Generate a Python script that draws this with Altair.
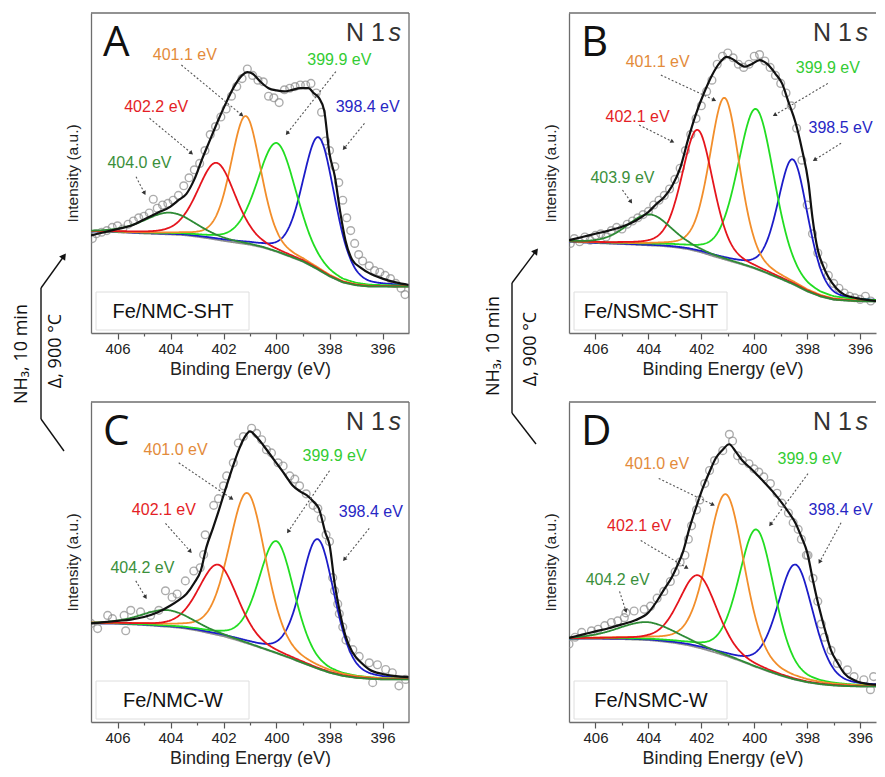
import numpy as np
import pandas as pd
import altair as alt

# ---------------- data ----------------
BG_EV = [407, 406, 405, 404, 403.5, 403, 402.5, 402, 401.5, 401, 400.5, 400,
         399.5, 399, 398.5, 398, 397.5, 397, 396.5, 396, 395]

A_BG = [31.7, 31.5, 31.1, 30.8, 30.6, 30.1, 29.5, 28.8, 28.2, 27.6, 26.7, 25.4,
        23.9, 22.3, 20.1, 17.7, 15.8, 14.9, 14.5, 14.5, 14.5]
B_BG = [28.5, 28.1, 27.8, 27.4, 27.2, 26.8, 26.2, 25.2, 23.9, 22.7, 21.5, 20.2,
        18.6, 16.9, 15.1, 13.0, 11.4, 10.4, 10.1, 9.9, 9.8]
C_BG = [30.8, 30.7, 30.3, 29.7, 29.3, 28.6, 27.7, 26.8, 25.6, 24.3, 22.9, 21.5,
        20.0, 18.4, 16.8, 15.4, 14.4, 13.8, 13.5, 13.3, 13.3]
D_BG = [26.0, 26.0, 25.9, 25.6, 25.2, 24.7, 24.0, 23.0, 21.8, 20.5, 19.0, 17.4,
        15.9, 14.5, 13.3, 12.4, 11.8, 11.4, 11.2, 11.1, 11.1]

# component order: blue, green, orange, red, dark green
A_CENTER = [398.4, 399.98, 401.16, 402.26, 404.03]
A_HEIGHT = [41.5, 34.0, 40.0, 24.0, 6.8]
A_FWHM = [1.45, 1.75, 1.35, 1.7, 2.3]
B_CENTER = [398.54, 399.93, 401.12, 402.14, 403.97]
B_HEIGHT = [39.0, 50.0, 50.5, 38.0, 9.7]
B_FWHM = [1.35, 1.65, 1.35, 1.4, 2.0]
C_CENTER = [398.44, 400.0, 401.1, 402.2, 404.13]
C_HEIGHT = [40.5, 35.0, 47.0, 22.0, 5.2]
C_FWHM = [1.5, 1.6, 1.65, 1.75, 2.3]
D_CENTER = [398.44, 399.91, 401.07, 402.12, 404.05]
D_HEIGHT = [36.0, 43.0, 50.5, 22.6, 5.6]
D_FWHM = [1.6, 1.6, 1.65, 1.7, 2.6]

# fitted envelope (black line)
A_ENV_EV = [407, 406.5, 406, 405.5, 405, 404.5, 404, 403.7, 403.4, 403.1, 402.8, 402.5, 402.2,
            401.9, 401.6, 401.3, 401.1, 400.9, 400.6, 400.3, 400.0, 399.7, 399.4, 399.1, 398.8,
            398.6, 398.4, 398.2, 398.0, 397.8, 397.6, 397.4, 397.15, 396.8, 396.5, 396.0, 395.5, 395.0]
A_ENV_U = [30.5, 31.5, 32.5, 33.5, 35.5, 37.5, 39.5, 41.5, 43.5, 48, 54.5, 60.5, 66.5,
           72, 77, 80.5, 81.5, 81, 78.5, 76.5, 75.8, 75.5, 76, 76.5, 76.5,
           75, 73.5, 69.5, 56, 49, 38, 29, 23, 20.3, 18.7, 17, 15.8, 15]
B_ENV_EV = [407, 406.5, 406, 405.5, 405, 404.5, 404, 403.7, 403.4, 403.1, 402.8, 402.5, 402.2,
            401.9, 401.6, 401.3, 401.05, 400.8, 400.55, 400.35, 400.1, 399.8, 399.5, 399.2, 398.95,
            398.7, 398.45, 398.2, 397.95, 397.8, 397.6, 397.4, 397.2, 396.9, 396.6, 396.2, 395.6, 395.0]
B_ENV_U = [29, 30, 31, 32, 33.2, 35, 37.8, 40.3, 42.5, 46, 51.5, 60.5, 68.5,
           75, 80.5, 84.5, 86.3, 85.5, 84, 83.2, 84, 85.3, 84, 81, 78,
           72, 66, 57.5, 46.8, 36, 26, 21, 17.5, 14, 12, 11, 10.2, 9.8]
C_ENV_EV = [407, 406.5, 406, 405.5, 405, 404.5, 404, 403.7, 403.4, 403.1, 402.85, 402.65, 402.4,
            402.2, 402.0, 401.8, 401.6, 401.4, 401.2, 401.0, 400.8, 400.5, 400.1, 399.7, 399.4,
            399.1, 398.85, 398.6, 398.4, 398.15, 398.0, 397.8, 397.6, 397.4, 397.15, 396.8, 396.5,
            396.0, 395.0]
C_ENV_U = [30.8, 31.2, 31.6, 32.0, 32.8, 34.2, 36.4, 38.0, 40.0, 43.5, 47.5, 54.5, 60.5,
           65.5, 70.8, 76, 81, 85.5, 89, 90.8, 89.5, 86.5, 82, 77.5, 74,
           72, 70.8, 68.8, 66.7, 59, 55.4, 43, 34, 27, 22, 18.5, 16.4, 15, 14]
D_ENV_EV = [407, 406.5, 406, 405.5, 405, 404.5, 404, 403.7, 403.4, 403.1, 402.9, 402.7, 402.45,
            402.2, 401.95, 401.7, 401.45, 401.2, 400.95, 400.7, 400.45, 400.1, 399.7, 399.3, 398.95,
            398.7, 398.45, 398.2, 398.0, 397.8, 397.6, 397.45, 397.3, 397.1, 396.85, 396.6, 396.2,
            395.6, 395.0]
D_ENV_U = [26.3, 27.3, 28.3, 29.3, 30.5, 31.8, 34.2, 37.5, 41.5, 45.5, 49, 53, 60.5,
           67, 73, 78, 82.5, 85, 86.8, 84.5, 81.7, 79, 75.6, 72, 68.4,
           65.5, 62.3, 57.5, 53, 45, 37.5, 32.6, 28, 22.4, 18.5, 15.2, 13.0,
           11.8, 11.5]

# measured points (grey circles)
A_PTS_EV = [406.95, 406.8, 406.6, 406.4, 406.2, 406.0, 405.8, 405.6, 405.4, 405.2, 405.0, 404.8,
            404.65, 404.5, 404.3, 404.1, 403.9, 403.7, 403.5, 403.3, 403.1, 402.9, 402.7, 402.5,
            402.3, 402.1, 401.9, 401.7, 401.5, 401.3, 401.1, 400.9, 400.7, 400.5, 400.3, 400.1,
            399.9, 399.7, 399.5, 399.3, 399.1, 398.9, 398.7, 398.5, 398.3, 398.15, 398.0, 397.8,
            397.65, 397.5, 397.35, 397.2, 397.05, 396.9, 396.75, 396.5, 396.3, 396.1, 395.9,
            395.7, 395.5, 395.3, 395.15]
A_PTS_U = [29.5, 31, 31.5, 32, 33, 33.5, 32.5, 34, 35, 36, 36.5, 37.5,
           41.8, 39, 40, 40.5, 41.5, 43, 46, 48.5, 51, 53, 57, 62,
           64.5, 67.5, 70, 74, 77, 79.5, 82.5, 80.5, 79, 78.5, 74, 73.5,
           72, 76, 76.5, 77, 77.5, 77.5, 78, 75, 69, 60, 57, 52,
           47, 41.5, 36, 32, 28, 24.5, 22.5, 21, 19.5, 19, 18,
           17, 15.5, 14, 12]
B_PTS_EV = [406.95, 406.8, 406.6, 406.4, 406.2, 406.0, 405.8, 405.6, 405.4, 405.2, 405.0, 404.8,
            404.6, 404.4, 404.2, 404.0, 403.8, 403.6, 403.4, 403.2, 403.0, 402.8, 402.6, 402.4,
            402.2, 402.0, 401.8, 401.6, 401.4, 401.2, 401.0, 400.8, 400.6, 400.4, 400.2, 400.0,
            399.8, 399.6, 399.4, 399.2, 399.0, 398.8, 398.6, 398.4, 398.2, 398.0, 397.8, 397.6,
            397.4, 397.2, 397.0, 396.8, 396.6, 396.4, 396.2, 396.0, 395.8, 395.6]
B_PTS_U = [28, 29.5, 28.5, 30, 29, 30.5, 31, 30, 32, 33, 32.5, 34,
           35, 36, 37, 38, 40, 41.5, 43, 45, 48, 51.5, 57, 62,
           67, 71, 75.5, 79, 84, 86.5, 87.5, 86, 84, 83, 84, 86.5,
           87, 85, 83, 80.5, 78, 75, 71, 64, 54, 40, 31, 25,
           21, 18, 15.5, 14, 12.5, 11.5, 11, 10.5, 11.5, 10]
C_PTS_EV = [407.0, 406.75, 406.37, 406.19, 405.75, 405.69, 405.5, 405.13, 404.75, 404.44, 404.19,
            403.94, 403.75, 403.44, 403.12, 402.88, 402.75, 402.69, 402.37, 402.19, 402.0, 401.88,
            401.63, 401.44, 401.25, 400.94, 400.75, 400.56, 400.38, 400.19, 399.94, 399.75, 399.5,
            399.31, 399.13, 398.88, 398.62, 398.44, 398.31, 398.13, 398.0, 397.88, 397.81, 397.69,
            397.63, 397.5, 397.38, 397.12, 396.88, 396.5, 396.37, 396.19, 395.88, 395.63, 395.38,
            395.13]
C_PTS_U = [30.8, 29.2, 33.3, 32.3, 33.3, 28.5, 34.9, 34.4, 33.3, 34.9, 41,
           39, 40, 44.1, 47.2, 48.2, 52.3, 58.5, 67.7, 69.8, 73.8, 76.9,
           81, 87.2, 89.2, 91.8, 90.2, 88.2, 85.1, 84.1, 81, 80, 76.9,
           75.9, 73.8, 71.3, 67.7, 66.7, 63.6, 58.5, 56.4, 45.1, 41, 36.9,
           33.8, 29.7, 25.6, 22.6, 20.5, 18.5, 12.3, 17.9, 16.4, 15.4, 11.3,
           13.3]
D_PTS_EV = [407.0, 406.77, 406.52, 406.15, 405.9, 405.65, 405.4, 405.16, 404.91, 404.85, 404.54,
            404.16, 403.92, 403.67, 403.42, 403.17, 402.99, 402.8, 402.62, 402.49, 402.37, 402.18,
            402.06, 401.87, 401.69, 401.5, 401.19, 400.94, 400.82, 400.63, 400.45, 400.2, 400.01,
            399.83, 399.64, 399.39, 399.14, 398.96, 398.71, 398.53, 398.34, 398.22, 398.03, 397.97,
            397.78, 397.6, 397.47, 397.35, 397.1, 396.86, 396.48, 396.23, 395.86, 395.61, 395.49]
D_PTS_U = [24.4, 26.5, 28, 28.5, 29, 30.1, 31.1, 31.6, 32.6, 34.1, 34.7,
           35.2, 36.2, 38.7, 40.8, 43.9, 46.9, 50, 52.1, 57.1, 61.3, 66.3,
           69.4, 74.5, 78.6, 81.7, 84.8, 89.9, 87.8, 83.2, 81.7, 80.7, 79.1,
           78.1, 76.6, 74.5, 71.5, 68.4, 65.3, 62.3, 60.2, 57.1, 52.1, 52.1,
           44.9, 37.7, 30.6, 26.5, 22.4, 18.3, 16.3, 14.2, 13.2, 10.1, 14.2]

# peak labels and dotted arrows (blue, green, orange, red, dark green)
A_LABELS = ["398.4 eV", "399.9 eV", "401.1 eV", "402.2 eV", "404.0 eV"]
A_LAB_EV = [396.56, 397.63, 403.46, 404.54, 405.17]
A_LAB_U = [70.7, 85.3, 86.9, 70.7, 53.0]
A_ARR_EV0 = [396.68, 397.76, 403.59, 404.79, 405.3]
A_ARR_U0 = [65.5, 81.7, 83.75, 67.1, 48.8]
A_ARR_EV1 = [397.45, 399.6, 401.31, 403.21, 404.98]
A_ARR_U1 = [57.7, 62.4, 68.1, 56.2, 43.7]

B_LABELS = ["398.5 eV", "399.9 eV", "401.1 eV", "402.1 eV", "403.9 eV"]
B_LAB_EV = [396.74, 397.22, 403.65, 404.41, 404.98]
B_LAB_U = [64.0, 82.7, 84.8, 67.6, 48.3]
B_ARR_EV0 = [396.72, 397.22, 403.53, 404.35, 404.98]
B_ARR_U0 = [59.3, 78.0, 80.6, 65.0, 44.7]
B_ARR_EV1 = [397.72, 399.23, 401.51, 403.09, 404.66]
B_ARR_U1 = [54.1, 68.1, 72.8, 59.8, 41.0]

C_LABELS = ["398.4 eV", "399.9 eV", "401.0 eV", "402.1 eV", "404.2 eV"]
C_LAB_EV = [396.44, 397.81, 403.81, 404.25, 405.06]
C_LAB_U = [65.6, 83.1, 85.1, 66.2, 48.2]
C_ARR_EV0 = [396.5, 398.0, 403.69, 404.19, 405.31]
C_ARR_U0 = [60.5, 78.5, 81.0, 62.1, 44.1]
C_ARR_EV1 = [397.44, 399.56, 401.69, 403.25, 404.94]
C_ARR_U1 = [50.8, 59.5, 69.8, 53.3, 39.0]

D_LABELS = ["398.4 eV", "399.9 eV", "401.0 eV", "402.1 eV", "404.2 eV"]
D_LAB_EV = [396.74, 397.91, 403.67, 404.35, 405.16]
D_LAB_U = [66.3, 82.2, 80.7, 61.3, 44.4]
D_ARR_EV0 = [396.72, 397.97, 403.61, 404.29, 405.09]
D_ARR_U0 = [62.3, 77.6, 76.1, 56.7, 40.8]
D_ARR_EV1 = [397.53, 399.39, 401.56, 402.55, 404.85]
D_ARR_U1 = [50.0, 61.7, 67.9, 48.2, 34.7]

LINE_COLORS = ["#1c1cc8", "#22dd22", "#f28e2b", "#e5151d", "#2e8b35"]
LABEL_COLORS = ["#2727c4", "#33cc33", "#e38b3b", "#e41e26", "#3b8f3b"]

# ---------------- layout ----------------
W_L, W_R, H = 318, 307, 320
LOW_L, LOW_R = 395.0, 395.4
FRAME = "#6e6e6e"
ONE = pd.DataFrame({"k": [0]})
FONT = "Liberation Sans"


def pv(x, c, h, w, eta=0.3):
    t = 2.0 * (x - c) / w
    return h * (eta / (1.0 + t * t) + (1.0 - eta) * np.exp(-np.log(2.0) * t * t))


def build_panel(letter, sample, bg, centers, heights, fwhms, env_ev, env_u,
                pts_ev, pts_u, labels, lab_ev, lab_u, a_ev0, a_u0, a_ev1, a_u1,
                width, low, right_frame, extras):
    xs = alt.Scale(domain=[407, low], nice=False, zero=False)
    ys = alt.Scale(domain=[0, 100], nice=False, zero=False)
    xaxis = alt.Axis(title="Binding Energy (eV)", values=list(range(396, 407)),
                     labelExpr="datum.value % 2 == 0 ? datum.label : ''",
                     tickSize={"condition": {"test": "datum.value % 2 == 0", "value": 6},
                               "value": 3},
                     grid=False)
    yaxis = alt.Axis(title="Intensity (a.u.)", labels=False, ticks=False, grid=False)
    X = alt.X("ev:Q", scale=xs, axis=xaxis)
    Y = alt.Y("u:Q", scale=ys, axis=yaxis)

    grid = np.round(np.arange(low, 407.0001, 0.025), 4)
    base = np.interp(grid, BG_EV[::-1], bg[::-1])

    layers = []
    pts = pd.DataFrame({"ev": pts_ev, "u": pts_u})
    layers.append(alt.Chart(pts).mark_point(shape="circle", filled=False, size=60,
                                            color="#8a8a8a", strokeWidth=1.4,
                                            clip=True).encode(x=X, y=Y))
    layers.append(alt.Chart(pd.DataFrame({"ev": grid, "u": base})).mark_line(
        color="#8f8f8f", strokeWidth=1.8, clip=True).encode(x=X, y=Y))
    for c, h, w, col in zip(centers, heights, fwhms, LINE_COLORS):
        comp = pd.DataFrame({"ev": grid, "u": base + pv(grid, c, h, w)})
        layers.append(alt.Chart(comp).mark_line(color=col, strokeWidth=1.8,
                                                clip=True).encode(x=X, y=Y))
    env = pd.DataFrame({"ev": env_ev, "u": env_u})
    layers.append(alt.Chart(env).mark_line(color="#111111", strokeWidth=2.2,
                                           interpolate="monotone",
                                           clip=True).encode(x=X, y=Y))

    # dotted arrows
    kx = width / (407 - low)
    ky = H / 100.0
    arr = pd.DataFrame({"ev": a_ev0, "u": a_u0, "ev2": a_ev1, "u2": a_u1})
    layers.append(alt.Chart(arr).mark_rule(strokeDash=[2, 2], color="#555555",
                                           strokeWidth=1.1).encode(
        x=X, y=Y, x2=alt.X2("ev2:Q"), y2=alt.Y2("u2:Q")))
    ang = [float(np.degrees(np.arctan2((e0 - e1) * kx, -(u0 - u1) * ky)) % 360)
           for e0, u0, e1, u1 in zip(a_ev0, a_u0, a_ev1, a_u1)]
    heads = pd.DataFrame({"ev": a_ev1, "u": a_u1, "ang": ang})
    layers.append(alt.Chart(heads).mark_point(shape="triangle-up", filled=True, size=22,
                                              color="#333333", opacity=1).encode(
        x=X, y=Y, angle=alt.Angle("ang:Q", scale=None)))
    labs = pd.DataFrame({"ev": lab_ev, "u": lab_u, "label": labels, "col": LABEL_COLORS})
    layers.append(alt.Chart(labs).mark_text(font=FONT, fontSize=16, baseline="middle",
                                            align="center").encode(
        x=X, y=Y, text="label:N", color=alt.Color("col:N", scale=None)))

    # sample label box
    layers.append(alt.Chart(ONE).mark_rect(fill="white", stroke="#dedede",
                                           strokeWidth=1).encode(
        x=alt.value(5), x2=alt.value(158), y=alt.value(279), y2=alt.value(317)))
    layers.append(alt.Chart(ONE).mark_text(text=sample, font=FONT, fontSize=20,
                                           color="#111111", align="center",
                                           baseline="middle").encode(
        x=alt.value(82), y=alt.value(299)))
    # panel letter and title
    layers.append(alt.Chart(ONE).mark_text(text=letter, font="Open Sans", fontSize=42,
                                           color="#111111", align="left",
                                           baseline="alphabetic").encode(
        x=alt.value(12), y=alt.value(43)))
    layers.append(alt.Chart(ONE).mark_text(text="N 1", font=FONT, fontSize=25,
                                           color="#333333", align="right",
                                           baseline="alphabetic").encode(
        x=alt.value(width - 24), y=alt.value(28)))
    layers.append(alt.Chart(ONE).mark_text(text="s", font=FONT, fontSize=25,
                                           fontStyle="italic", color="#333333",
                                           align="right", baseline="alphabetic").encode(
        x=alt.value(width - 8), y=alt.value(28)))
    # frame
    layers.append(alt.Chart(ONE).mark_rule(color=FRAME, strokeWidth=1.3).encode(
        x=alt.value(0), x2=alt.value(width), y=alt.value(0)))
    if right_frame:
        layers.append(alt.Chart(ONE).mark_rule(color=FRAME, strokeWidth=1.3).encode(
            x=alt.value(width), y=alt.value(0), y2=alt.value(H)))
    layers.extend(extras)
    return alt.layer(*layers).properties(width=width, height=H)


def process_arrow(x_line, y_top, y_bot, x_tip, y_tip_top, y_tip_bot, x_t1, x_t2, y_t1, y_t2):
    out = []
    out.append(alt.Chart(ONE).mark_rule(color="#111111", strokeWidth=1.4).encode(
        x=alt.value(x_line), y=alt.value(y_top), y2=alt.value(y_bot)))
    out.append(alt.Chart(ONE).mark_rule(color="#111111", strokeWidth=1.4).encode(
        x=alt.value(x_line), y=alt.value(y_top), x2=alt.value(x_tip), y2=alt.value(y_tip_top)))
    out.append(alt.Chart(ONE).mark_rule(color="#111111", strokeWidth=1.4).encode(
        x=alt.value(x_line), y=alt.value(y_bot), x2=alt.value(x_tip), y2=alt.value(y_tip_bot)))
    a = float(np.degrees(np.arctan2(x_tip - x_line, -(y_tip_top - y_top))) % 360)
    out.append(alt.Chart(ONE).mark_point(shape="triangle-up", filled=True, size=55,
                                         color="#111111", opacity=1, angle=a).encode(
        x=alt.value(x_tip), y=alt.value(y_tip_top)))
    out.append(alt.Chart(ONE).mark_text(text="NH\u2083, 10 min", font="Open Sans",
                                        fontSize=18, angle=270, color="#111111",
                                        align="center", baseline="middle").encode(
        x=alt.value(x_t1), y=alt.value(y_t1)))
    out.append(alt.Chart(ONE).mark_text(text="\u0394, 900 \u00b0C", font="Open Sans",
                                        fontSize=18, angle=270, color="#111111",
                                        align="center", baseline="middle").encode(
        x=alt.value(x_t2), y=alt.value(y_t2)))
    return out


left_arrow = process_arrow(-50, 275, 406, -27, 243, 438, -69, -35, 341, 338)
mid_arrow = process_arrow(-57, 270, 400, -33, 238, 431, -75, -38, 333, 336)

pA = build_panel("A", "Fe/NMC-SHT", A_BG, A_CENTER, A_HEIGHT, A_FWHM, A_ENV_EV, A_ENV_U,
                 A_PTS_EV, A_PTS_U, A_LABELS, A_LAB_EV, A_LAB_U,
                 A_ARR_EV0, A_ARR_U0, A_ARR_EV1, A_ARR_U1, W_L, LOW_L, True, left_arrow)
pB = build_panel("B", "Fe/NSMC-SHT", B_BG, B_CENTER, B_HEIGHT, B_FWHM, B_ENV_EV, B_ENV_U,
                 B_PTS_EV, B_PTS_U, B_LABELS, B_LAB_EV, B_LAB_U,
                 B_ARR_EV0, B_ARR_U0, B_ARR_EV1, B_ARR_U1, W_R, LOW_R, False, mid_arrow)
pC = build_panel("C", "Fe/NMC-W", C_BG, C_CENTER, C_HEIGHT, C_FWHM, C_ENV_EV, C_ENV_U,
                 C_PTS_EV, C_PTS_U, C_LABELS, C_LAB_EV, C_LAB_U,
                 C_ARR_EV0, C_ARR_U0, C_ARR_EV1, C_ARR_U1, W_L, LOW_L, True, [])
pD = build_panel("D", "Fe/NSMC-W", D_BG, D_CENTER, D_HEIGHT, D_FWHM, D_ENV_EV, D_ENV_U,
                 D_PTS_EV, D_PTS_U, D_LABELS, D_LAB_EV, D_LAB_U,
                 D_ARR_EV0, D_ARR_U0, D_ARR_EV1, D_ARR_U1, W_R, LOW_R, False, [])

chart = alt.concat(pA, pB, pC, pD, columns=2,
                   spacing={"row": 69, "column": 160}, bounds="flush",
                   padding={"left": 5, "top": 4, "right": 0, "bottom": 0}
                   ).configure_view(stroke=None).configure_axis(
    domainColor=FRAME, domainWidth=1.3, tickColor="#555555", tickWidth=1.2,
    labelFont=FONT, labelFontSize=15, labelColor="#222222", labelPadding=2,
    titleFont=FONT, titleFontSize=18, titleFontWeight="normal", titleColor="#222222",
    titlePadding=4
).configure_axisY(titleFontSize=15.5, titlePadding=11)

chart.save("out.html", embed_options={"renderer": "svg", "actions": False})
